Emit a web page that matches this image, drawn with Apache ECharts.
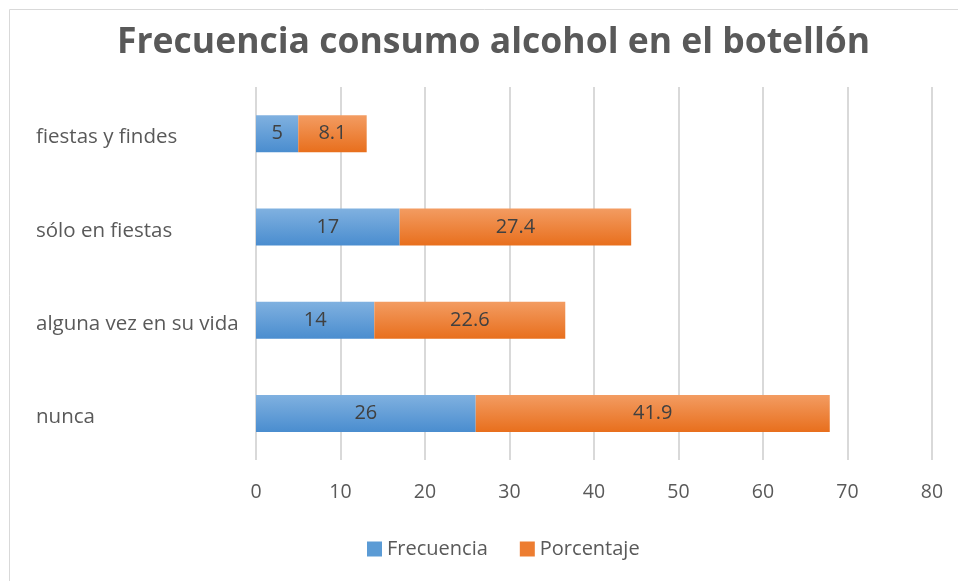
<!DOCTYPE html>
<html><head><meta charset="utf-8">
<script src="https://cdn.jsdelivr.net/npm/echarts@6/dist/echarts.min.js"></script>
<style>html,body{margin:0;padding:0;background:#fff}#c{width:958px;height:581px}</style>
</head><body><div id="c"></div>
<script>
const titleText = 'Frecuencia consumo alcohol en el botellón';
const categories = ['nunca', 'alguna vez en su vida', 'sólo en fiestas', 'fiestas y findes'];
const frecuencia = [26, 14, 17, 5];
const porcentaje = [41.9, 22.6, 27.4, 8.1];
const seriesNames = ['Frecuencia', 'Porcentaje'];
const axisMin = 0, axisMax = 80, axisStep = 10;

const FONT = '"Open Sans", sans-serif';
const chart = echarts.init(document.getElementById('c'));
function grad(top, bottom) {
  return new echarts.graphic.LinearGradient(0, 0, 0, 1, [{offset: 0, color: top}, {offset: 1, color: bottom}]);
}
const labelStyle = {show: true, position: 'inside', color: '#404040', fontSize: 20, fontFamily: FONT};
chart.setOption({
  animation: false,
  graphic: [{type: 'rect', shape: {x: 9.5, y: 9.5, width: 1200, height: 1200}, style: {fill: 'none', stroke: '#d9d9d9', lineWidth: 1}, silent: true}],
  title: {text: titleText, left: 112, top: 20,
    textStyle: {fontFamily: FONT, fontWeight: 'bold', fontSize: 35.5, color: '#595959'}},
  legend: {top: 534, left: 362, itemWidth: 15, itemHeight: 15, itemGap: 32, icon: 'rect',
    textStyle: {fontFamily: FONT, fontSize: 20, color: '#595959'}, data: seriesNames},
  grid: {left: 256, right: 26, top: 87, bottom: 121, containLabel: false},
  xAxis: {type: 'value', min: axisMin, max: axisMax, interval: axisStep,
    axisLine: {show: false}, axisTick: {show: false},
    axisLabel: {margin: 22, fontFamily: FONT, fontSize: 19.5, color: '#595959'},
    splitLine: {show: true, lineStyle: {color: '#d9d9d9', width: 2}}},
  yAxis: {type: 'category', data: categories,
    axisLine: {show: false}, axisTick: {show: false},
    axisLabel: {margin: 220, align: 'left', color: '#595959',
      formatter: function (v) { return '{a|' + v + '}'; },
      rich: {a: {fontFamily: FONT, fontSize: 20.5, color: '#595959', padding: [8, 0, 0, 0]}}}},
  series: [
    {name: seriesNames[0], type: 'bar', stack: 'a', data: frecuencia, barWidth: 37,
     itemStyle: {color: grad('#80b1e0', '#4a8dcf')}, label: labelStyle},
    {name: seriesNames[1], type: 'bar', stack: 'a', data: porcentaje, barWidth: 37,
     itemStyle: {color: grad('#f39c62', '#e86f1d')}, label: labelStyle}
  ]
});
chart.setOption({legend: {data: [
  {name: seriesNames[0], itemStyle: {color: '#5b9bd5'}},
  {name: seriesNames[1], itemStyle: {color: '#ed7d31'}}]}});
</script></body></html>
